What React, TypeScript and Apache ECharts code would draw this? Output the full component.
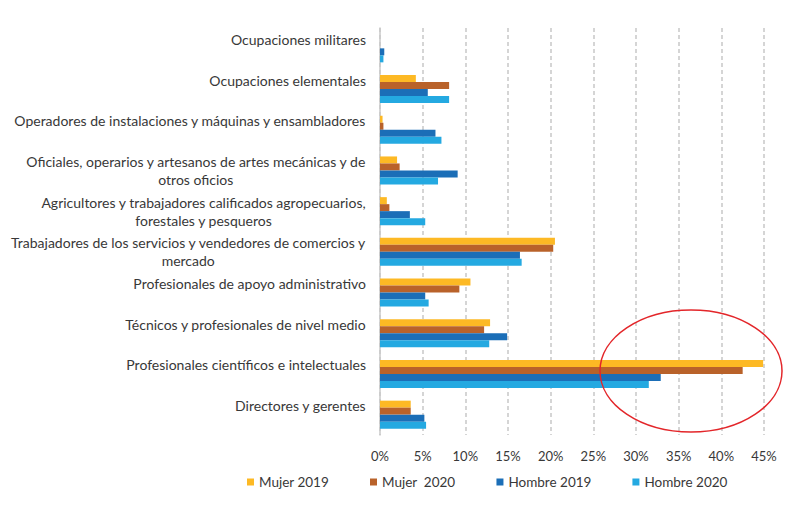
import React, { useEffect, useRef } from "react";
import * as echarts from "echarts";

const categories = [
  "Ocupaciones militares",
  "Ocupaciones elementales",
  "Operadores de instalaciones y máquinas y ensambladores",
  "Oficiales, operarios y artesanos de artes mecánicas y de\notros oficios",
  "Agricultores y trabajadores calificados agropecuarios,\nforestales y pesqueros",
  "Trabajadores de los servicios y vendedores de comercios y\nmercado",
  "Profesionales de apoyo administrativo",
  "Técnicos y profesionales de nivel medio",
  "Profesionales científicos e intelectuales",
  "Directores y gerentes",
];

const seriesNames = ["Mujer 2019", "Mujer  2020", "Hombre 2019", "Hombre 2020"];
const mujer2019 = [0, 4.2, 0.3, 2.0, 0.8, 20.5, 10.6, 12.9, 44.9, 3.6];
const mujer2020 = [0, 8.1, 0.4, 2.3, 1.1, 20.3, 9.3, 12.2, 42.5, 3.6];
const hombre2019 = [0.5, 5.6, 6.5, 9.1, 3.5, 16.4, 5.3, 14.9, 32.9, 5.2];
const hombre2020 = [0.4, 8.1, 7.2, 6.8, 5.3, 16.6, 5.7, 12.8, 31.5, 5.4];
const colors = ["#FDB924", "#B9622A", "#1B6EB7", "#24A9E1"];

const FONT = "Lato";
const TEXT = "#383838";

export default function App() {
  const ref = useRef<HTMLDivElement>(null);
  useEffect(() => {
    if (!ref.current) return;
    const chart = echarts.init(ref.current, null, { renderer: "svg" });
    const values = [mujer2019, mujer2020, hombre2019, hombre2020];
    chart.setOption({
      animation: false,
      backgroundColor: "#ffffff",
      textStyle: { fontFamily: FONT },
      grid: { left: 380, right: 27, top: 28, bottom: 72 },
      legend: {
        data: seriesNames,
        left: 242,
        top: 470,
        icon: "rect",
        itemWidth: 7,
        itemHeight: 7,
        itemGap: 41,
        textStyle: { fontFamily: FONT, fontSize: 13.5, color: TEXT },
      },
      xAxis: {
        type: "value",
        min: 0,
        max: 45,
        interval: 5,
        axisLine: { show: false },
        axisTick: { show: false },
        axisLabel: {
          formatter: "{value}%",
          fontFamily: FONT,
          fontSize: 13,
          color: TEXT,
          margin: 14,
        },
        splitLine: {
          show: true,
          lineStyle: { type: [4, 3], color: "#c8c8c8", width: 1.5 },
        },
      },
      yAxis: {
        type: "category",
        inverse: true,
        data: categories,
        axisLine: { show: true, lineStyle: { color: "#c8c8c8", width: 1.5 } },
        axisTick: { show: false },
        axisLabel: {
          interval: 0,
          margin: 14,
          color: TEXT,
          fontFamily: FONT,
          fontSize: 14,
          lineHeight: 18,
          formatter: (v: string) => {
            const lines = v.split("\n");
            const body = lines.map((l) => `{c|${l}}`).join("\n");
            return lines.length === 1 ? body + "\n{c| }" : body;
          },
          rich: {
            c: {
              align: "center",
              fontFamily: FONT,
              fontSize: 14,
              lineHeight: 18,
              color: TEXT,
            },
          },
        },
      },
      series: seriesNames.map((name, i) => ({
        name,
        type: "bar",
        data: values[i],
        barWidth: 7,
        barGap: "0%",
        itemStyle: { color: colors[i] },
      })),
      graphic: [
        {
          type: "ellipse",
          shape: { cx: 691, cy: 371, rx: 91, ry: 61 },
          style: { fill: "none", stroke: "#E3262A", lineWidth: 1.5 },
          z: 100,
        },
      ],
    });
    return () => chart.dispose();
  }, []);
  return (
    <div
      ref={ref}
      style={{ position: "fixed", left: 0, top: 0, width: 791, height: 507 }}
    />
  );
}
